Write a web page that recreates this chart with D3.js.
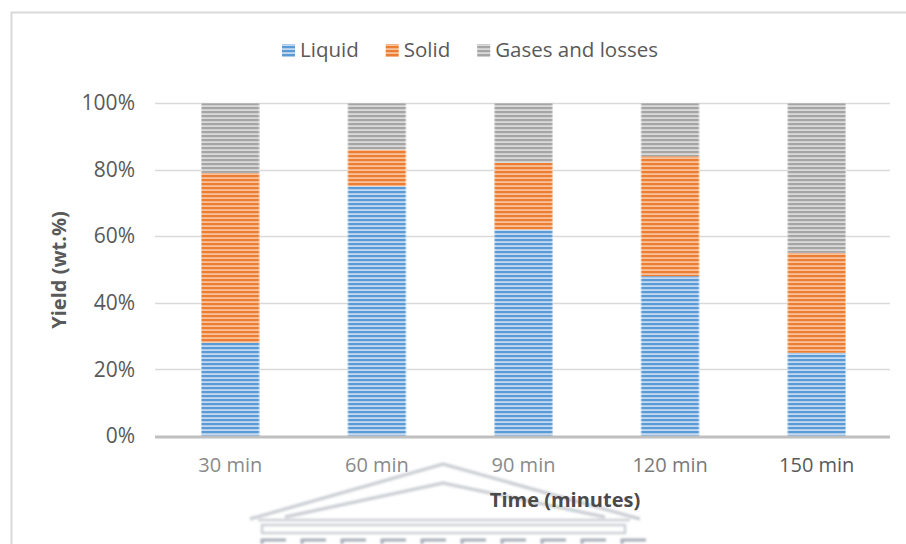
<!DOCTYPE html>
<html>
<head>
<meta charset="utf-8">
<script src="https://cdn.jsdelivr.net/npm/d3@7"></script>
<style>
  html, body { margin: 0; padding: 0; background: #fff; }
  svg { display: block; font-family: "Open Sans", Lato, sans-serif; }
</style>
</head>
<body>
<svg id="chart" width="906" height="544"></svg>
<script>
// Yield split per residence time (wt.%)
const categories = ["30 min", "60 min", "90 min", "120 min", "150 min"];
const liquid = [28, 75, 62, 48, 25];
const solid  = [51, 11, 20, 36, 30];
const gases  = [21, 14, 18, 16, 45];
const seriesNames = ["Liquid", "Solid", "Gases and losses"];
const yTicks = [0, 0.2, 0.4, 0.6, 0.8, 1.0];

const FONT = "'Open Sans', Lato, sans-serif";
const svg = d3.select("#chart");
const W = 906, H = 544;
const margin = { left: 157, right: 16, top: 103, bottom: 108 };
const plotW = W - margin.left - margin.right;
const plotH = H - margin.top - margin.bottom;

// striped fills for each series
const stripeColors = [
  { dark: "#5b9bd5", light: "#c3daf2" },
  { dark: "#ed7d31", light: "#f8c29c" },
  { dark: "#a5a5a5", light: "#dadada" }
];
const defs = svg.append("defs");
stripeColors.forEach((c, i) => {
  const p = defs.append("pattern")
    .attr("id", "stripe" + i)
    .attr("patternUnits", "userSpaceOnUse")
    .attr("width", 8).attr("height", 4);
  p.append("rect").attr("width", 8).attr("height", 4).attr("fill", c.light);
  p.append("rect").attr("y", 0).attr("width", 8).attr("height", 2.2).attr("fill", c.dark);
});
defs.append("filter").attr("id", "soft")
  .append("feGaussianBlur").attr("stdDeviation", 0.8);

// outer frame
svg.append("path")
  .attr("d", `M11.5,${H} V12.5 H${W}`)
  .attr("fill", "none").attr("stroke", "#d9d9d9").attr("stroke-width", 2);

const g = svg.append("g").attr("transform", `translate(${margin.left},${margin.top})`);

const x = d3.scaleBand().domain(categories).range([0, plotW]).paddingInner(0.6).paddingOuter(0.3);
const y = d3.scaleLinear().domain([0, 1]).range([plotH, 0]);

// gridlines
g.append("g").selectAll("line").data(yTicks.slice(1)).join("line")
  .attr("x1", -2).attr("x2", plotW)
  .attr("y1", d => Math.round(y(d)) + 0.5).attr("y2", d => Math.round(y(d)) + 0.5)
  .attr("stroke", "#d9d9d9").attr("stroke-width", 1.3);

// y tick labels
const yAxis = d3.axisLeft(y).tickValues(yTicks).tickFormat(d3.format(".0%")).tickSize(0).tickPadding(22);
const ya = g.append("g").call(yAxis);
ya.select(".domain").remove();
ya.selectAll("text").attr("font-size", 21).attr("fill", "#595959").attr("font-family", FONT);

// stacked bars
const rows = categories.map((c, i) => ({ cat: c, liquid: liquid[i] / 100, solid: solid[i] / 100, gases: gases[i] / 100 }));
const stack = d3.stack().keys(["liquid", "solid", "gases"]);
const layers = stack(rows);
g.append("g").selectAll("g").data(layers).join("g")
  .attr("fill", (d, i) => `url(#stripe${i})`)
  .selectAll("rect").data(d => d).join("rect")
  .attr("x", d => x(d.data.cat))
  .attr("width", x.bandwidth())
  .attr("y", d => y(d[1]))
  .attr("height", d => y(d[0]) - y(d[1]));

// soft bar edges
g.append("g").selectAll("rect").data(rows).join("rect")
  .attr("x", d => x(d.cat) + 0.5).attr("width", x.bandwidth() - 1)
  .attr("y", y(1)).attr("height", plotH)
  .attr("fill", "none").attr("stroke", "#fff").attr("stroke-opacity", 0.45);

// baseline
g.append("line").attr("x1", -2).attr("x2", plotW).attr("y1", plotH + 1).attr("y2", plotH + 1)
  .attr("stroke", "#bfbfbf").attr("stroke-width", 3);

// x axis labels
const labelColors = ["#8a8a8a", "#8a8a8a", "#8a8a8a", "#7a7a7a", "#595959"];
const xAxis = d3.axisBottom(x).tickSize(0).tickPadding(22);
const xa = g.append("g").attr("transform", `translate(0,${plotH})`).call(xAxis);
xa.select(".domain").remove();
xa.selectAll("text").attr("font-size", 20).attr("font-family", FONT)
  .attr("fill", (d, i) => labelColors[i]);

// building emblem faintly behind the axis title
const emb = svg.append("g").attr("fill", "none").attr("stroke", "#cdd0d6")
  .attr("stroke-width", 3.5).attr("filter", "url(#soft)");
emb.append("path").attr("d", "M250,519 L443,464 L640,519");
emb.append("path").attr("d", "M285,517 L443,483 L605,517");
emb.append("path").attr("d", "M258,520 H630").attr("stroke-width", 2.5);
emb.append("rect").attr("x", 262).attr("y", 525).attr("width", 363).attr("height", 8).attr("stroke-width", 2.5);
const cols = d3.range(262, 630, 40);
emb.selectAll("path.col").data(cols).join("path").attr("class", "col")
  .attr("d", d => `M${d},544 V540 H${d + 24}`).attr("stroke", "#a8adb7").attr("stroke-width", 3);

// axis titles
svg.append("text")
  .attr("transform", "translate(66,270) rotate(-90)")
  .attr("text-anchor", "middle")
  .attr("font-size", 20).attr("font-weight", "bold").attr("fill", "#595959")
  .text("Yield (wt.%)");
svg.append("text")
  .attr("x", 565).attr("y", 507)
  .attr("text-anchor", "middle")
  .attr("font-size", 20).attr("font-weight", "bold").attr("fill", "#4a4a4a")
  .text("Time (minutes)");

// legend
const legend = svg.append("g").attr("transform", "translate(282,50)");
let lx = 0;
seriesNames.forEach((name, i) => {
  const item = legend.append("g").attr("transform", `translate(${lx},0)`);
  item.append("rect").attr("x", 0).attr("y", -6).attr("width", 13).attr("height", 13)
    .attr("fill", `url(#stripe${i})`);
  const t = item.append("text").attr("x", 18).attr("y", 0).attr("dy", "0.35em")
    .attr("font-size", 20.5).attr("fill", "#595959").text(name);
  lx += 18 + t.node().getComputedTextLength() + 27;
});
</script>
</body>
</html>
